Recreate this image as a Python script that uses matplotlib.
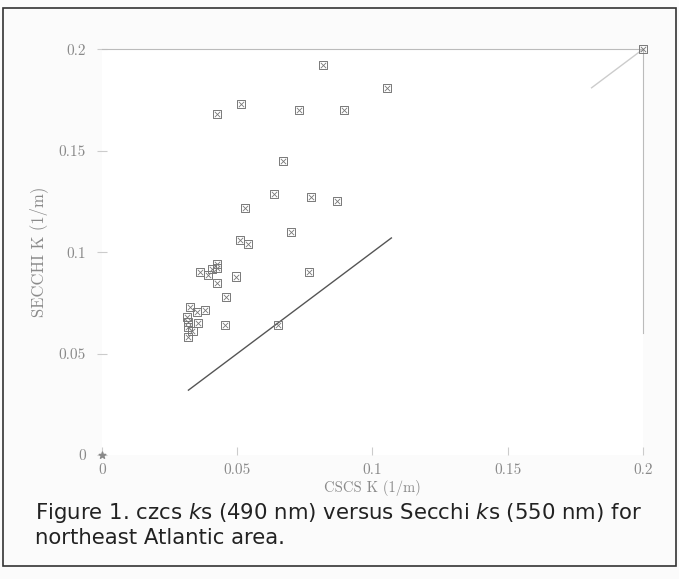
import matplotlib
matplotlib.use("Agg")
import matplotlib.pyplot as plt
from matplotlib.patches import Rectangle

# ----- Data -----
czcs_k = [0.2, 0.0817, 0.1054, 0.0514, 0.0425, 0.0728, 0.0895, 0.0669,
          0.0636, 0.0529, 0.0773, 0.0869, 0.0699, 0.051, 0.054, 0.0425,
          0.0425, 0.0765, 0.0495, 0.0362, 0.0392, 0.0407, 0.0425, 0.0458,
          0.0325, 0.0351, 0.038, 0.0314, 0.0318, 0.0355, 0.0318, 0.0455,
          0.065, 0.032, 0.0335]
secchi_k = [0.2, 0.192, 0.181, 0.173, 0.168, 0.170, 0.170, 0.145,
            0.1286, 0.1217, 0.127, 0.125, 0.110, 0.106, 0.104, 0.094,
            0.092, 0.090, 0.088, 0.090, 0.0887, 0.0916, 0.0847, 0.0778,
            0.0729, 0.0704, 0.0714, 0.068, 0.063, 0.065, 0.0581, 0.064,
            0.064, 0.0655, 0.061]

# 1:1 reference line pieces
line_main = [0.032, 0.107]
line_corner = [0.181, 0.2]

ticks = [0, 0.05, 0.1, 0.15, 0.2]
tick_labels = ["0", "0.05", "0.1", "0.15", "0.2"]

caption_1 = r"Figure 1. czcs $\mathit{k}$s (490 nm) versus Secchi $\mathit{k}$s (550 nm) for"
caption_2 = "northeast Atlantic area."

plt.rcParams["mathtext.fontset"] = "custom"
plt.rcParams["mathtext.it"] = "DejaVu Sans:italic"
plt.rcParams["mathtext.rm"] = "DejaVu Sans"

fig = plt.figure(figsize=(6.79, 5.79), dpi=100, facecolor="#fbfbfb")
ax = fig.add_axes([0.150, 0.214, 0.797, 0.701])
ax.set_facecolor("white")

gray = "#8a8a8a"
mark = "#787878"

ax.plot(line_main, line_main, color="#555555", lw=1.0)
ax.plot(line_corner, line_corner, color="#cccccc", lw=1.0, clip_on=False)

# square-with-cross markers: outline square plus an x on top
ax.scatter(czcs_k, secchi_k, marker="s", s=34, facecolors="none",
           edgecolors=mark, linewidths=0.7, clip_on=False, zorder=3)
ax.scatter(czcs_k, secchi_k, marker="x", s=15, color=mark,
           linewidths=0.6, clip_on=False, zorder=3)
ax.scatter([0], [0], marker="*", s=25, color=gray, clip_on=False, zorder=3)

ax.set_xlim(0, 0.2)
ax.set_ylim(0, 0.2)

for side in ["left", "bottom"]:
    ax.spines[side].set_visible(False)
ax.spines["top"].set_color("#bbbbbb")
ax.spines["right"].set_color("#bbbbbb")
ax.spines["right"].set_bounds(0.06, 0.2)

ax.set_xticks(ticks)
ax.set_xticklabels(tick_labels)
ax.set_yticks(ticks)
ax.set_yticklabels(tick_labels)
ax.tick_params(axis="x", direction="in", length=6, color="#cccccc",
               labelcolor=gray, labelsize=11, pad=6)
ax.tick_params(axis="y", direction="inout", length=7, color="#cccccc",
               labelcolor=gray, labelsize=11, pad=8)
for lab in ax.get_xticklabels() + ax.get_yticklabels():
    lab.set_family("cmr10")

ax.set_xlabel("CSCS K (1/m)", family="cmr10", fontsize=10.5, color=gray, labelpad=2)
ax.set_ylabel("SECCHI K (1/m)", family="cmr10", fontsize=12, color=gray, labelpad=8)

# page frame of the scan
fig.patches.append(Rectangle((3 / 679, 13 / 579), 673 / 679, 558 / 579,
                             transform=fig.transFigure, fill=False,
                             edgecolor="#333333", lw=1.2))

fig.text(35 / 679, 1 - 513 / 579, caption_1, fontsize=15.3, color="#222222",
         va="center")
fig.text(35 / 679, 1 - 538 / 579, caption_2, fontsize=15.3, color="#222222",
         va="center")

fig.savefig("out.png", dpi=100, facecolor=fig.get_facecolor())
